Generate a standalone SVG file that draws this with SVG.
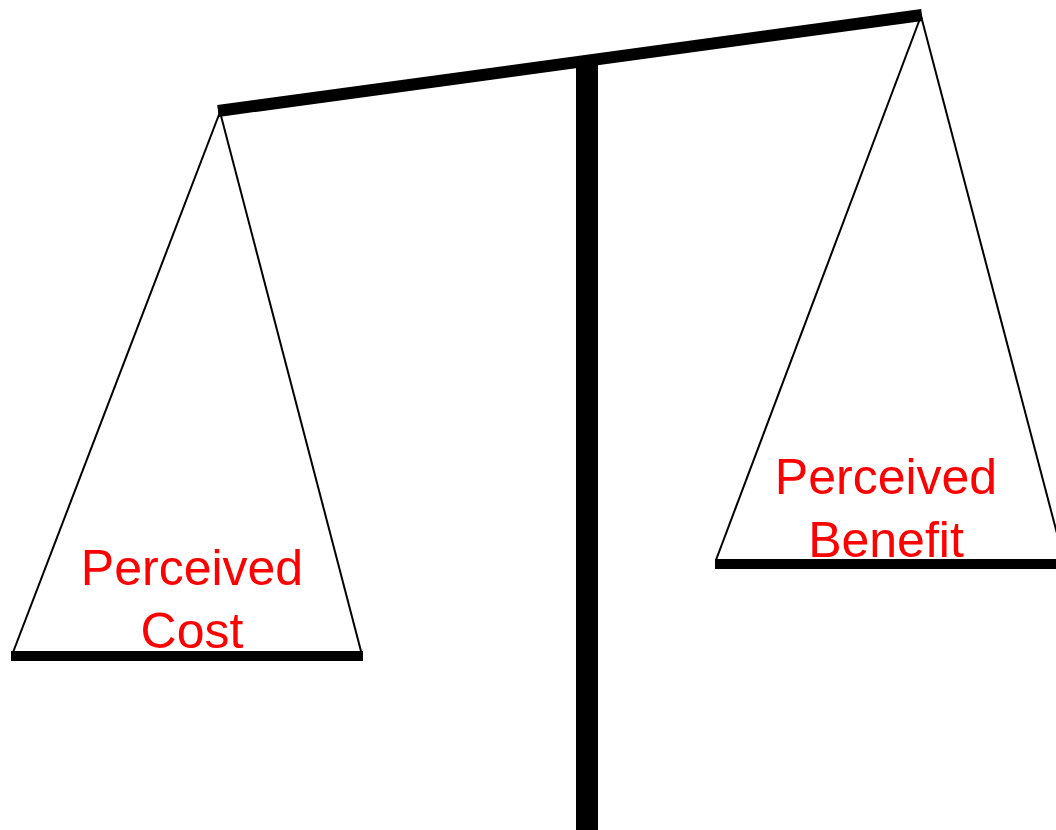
<svg xmlns="http://www.w3.org/2000/svg" width="1056" height="830" viewBox="0 0 1056 830">
<style>
.thin{stroke:#000;stroke-width:2;fill:none}
.bar{stroke:#000;stroke-width:10;fill:none}
.lbl{font-family:"Liberation Sans",Arial,sans-serif;font-size:50px;fill:#ff0000;text-anchor:middle}
</style>
<rect width="1056" height="830" fill="#fff"/>
<g id="stand">
<line x1="587" y1="64" x2="587" y2="830" stroke="#000" stroke-width="22"/>
<line x1="218" y1="111" x2="922" y2="15" stroke="#000" stroke-width="12"/>
</g>
<g id="left-pan">
<line class="thin" x1="220" y1="112" x2="12" y2="655"/>
<line class="thin" x1="220" y1="112" x2="362" y2="655"/>
<text class="lbl" x="192" y="585">Perceived</text>
<text class="lbl" x="192" y="648">Cost</text>
<line class="bar" x1="11" y1="656" x2="363" y2="656"/>
</g>
<g id="right-pan">
<line class="thin" x1="921" y1="16" x2="716" y2="560"/>
<line class="thin" x1="921" y1="16" x2="1064" y2="560"/>
<text class="lbl" x="886" y="494">Perceived</text>
<text class="lbl" x="886" y="557">Benefit</text>
<line class="bar" x1="715" y1="564" x2="1056" y2="564"/>
</g>
</svg>
